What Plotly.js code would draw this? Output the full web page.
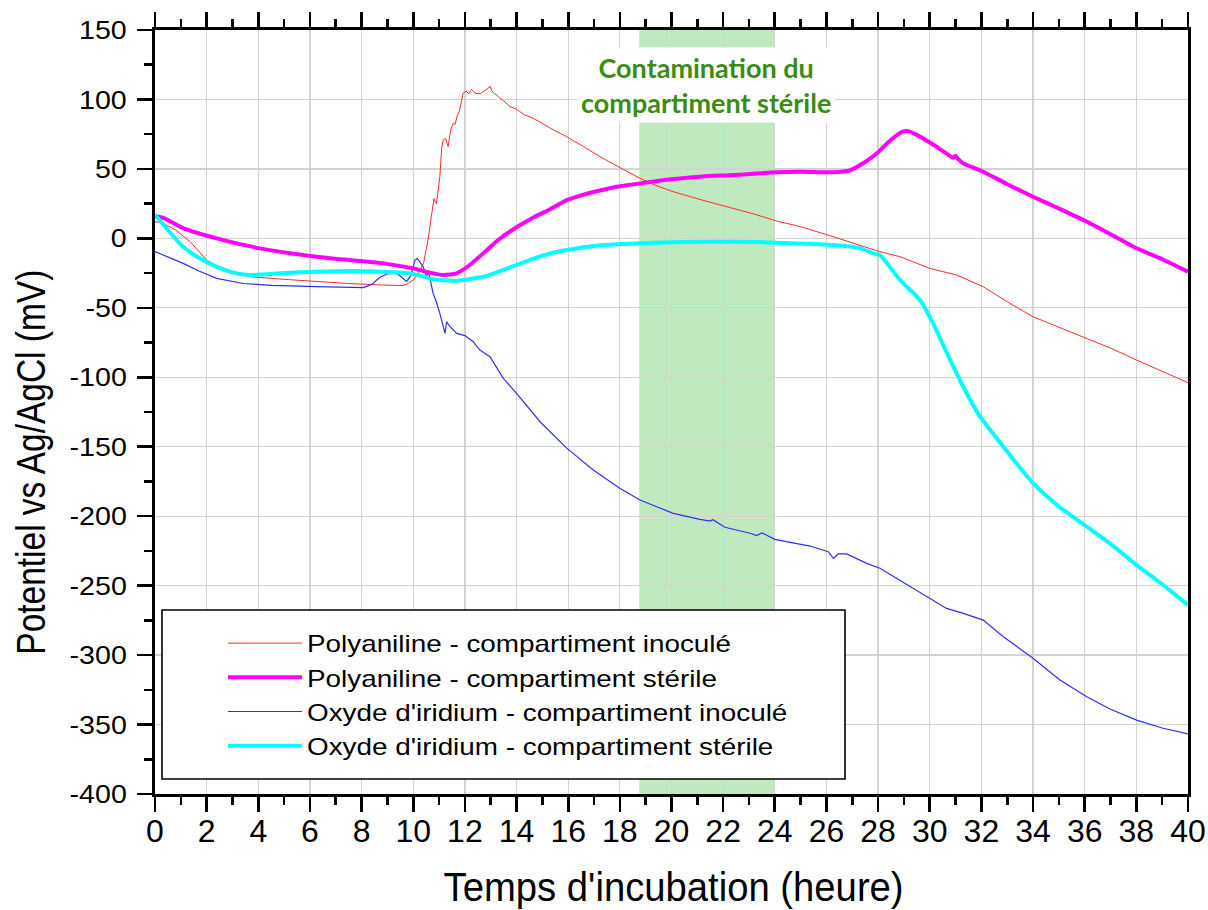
<!DOCTYPE html>
<html>
<head>
<meta charset="utf-8">
<script src="https://cdn.plot.ly/plotly-3.0.1.min.js"></script>
<style>html,body{margin:0;padding:0;background:#fff}#chart{width:1208px;height:910px}</style>
</head>
<body>
<div id="chart"></div>
<script>
// Polyaniline - compartiment inoculé
const paniInocX = [0,0.3,0.8,1.36,2.0,2.6,3.0,3.68,5,6.26,7.5,8.84,9.3,9.6,9.8,10.0,10.2,10.4,10.57,10.7,10.8,10.9,11.03,11.1,11.16,11.25,11.35,11.45,11.55,11.62,11.7,11.8,11.93,12.05,12.15,12.26,12.4,12.58,12.75,12.9,12.97,13.05,13.15,13.25,13.36,13.5,13.75,14.0,14.3,14.64,15.3,15.94,16.6,17.23,18.0,18.78,19.4,20.06,21.2,22.38,23.2,24.07,25.0,26.26,27.3,28.07,28.85,30.0,31.04,32.07,33.1,34.0,35.0,36.08,37.0,38.01,39.0,40];
const paniInocY = [12,11,6,-2.4,-15.6,-22,-25,-27.6,-29.5,-31.2,-32.5,-33.6,-34,-34,-32.5,-30,-25,-17.9,-1.2,15,28.6,25,44.4,65,70.8,72,66,78,83,82,88,92.4,104.4,106,104,107.3,104.5,104,106,108,109.5,106,104,103,100.8,99,94.8,93,89,86.6,79.4,73.2,66,58.8,51,43.2,38,33.6,27.5,21.8,17.5,12.5,8.4,1.2,-5,-9.6,-13.2,-21.6,-26.4,-34.8,-46.8,-56.4,-64,-72,-79,-87.6,-95.5,-103.9];

// Polyaniline - compartiment stérile
const paniSterX = [0,0.3,1.09,2.39,4.07,6.26,8.84,10.0,10.6,11.16,11.68,12.2,12.71,13.3,14.0,14.6,15.3,15.94,16.5,17.23,18.0,18.78,20.0,21.2,22.38,24.07,25.0,26.26,26.9,27.5,28.0,28.5,28.98,29.2,29.5,30.0,30.5,30.92,31.0,31.1,31.3,32.07,33.0,34.0,35.0,35.95,37.0,37.88,39.0,40];
const paniSterY = [16,15,7.4,0,-7.2,-13.2,-18,-21.6,-24.5,-26.4,-25.2,-19,-10.8,-1,8,14.5,21,27.5,31,34.5,37.5,39.6,42.5,44.5,45.6,47.6,48,47.6,49,55,62,71,77,77,74.5,69,63,58,59.5,57,54,48,39,30,21.5,13.2,3,-6,-15,-24];

// Oxyde d'iridium - compartiment inoculé
const irInocX = [0,0.4,1.09,1.7,2.39,3.42,4.5,6.26,7.3,8.07,8.4,8.71,9.0,9.36,9.55,9.74,9.9,10.07,10.15,10.25,10.39,10.5,10.6,10.77,10.9,11.03,11.15,11.23,11.29,11.4,11.68,12.0,12.32,12.58,12.97,13.49,14.0,14.91,15.94,16.97,18.01,18.78,19.4,20.07,21.1,21.5,21.6,22.07,23.04,23.3,23.5,24.0,25.36,26.07,26.27,26.46,26.78,27.56,28.07,29.49,30.65,31.3,32.07,32.85,34.01,35.04,36.08,37.0,38.01,39.0,40];
const irInocY = [-9.5,-12.5,-18,-23.5,-28.8,-32.5,-33.8,-34.8,-35.5,-35.5,-33,-28,-25.5,-25,-28,-31,-27,-15.6,-14.4,-17,-20.4,-27,-25,-39.6,-46,-54,-62,-68.4,-60,-63,-68.4,-70,-74.4,-80.4,-85.2,-100.8,-111.6,-132,-151,-166.8,-180,-188.4,-193,-198,-202.3,-203.5,-202.5,-208,-212.3,-214,-212,-216.7,-221.5,-225.6,-230.4,-227.2,-227.2,-234,-237.5,-253.2,-266.4,-270,-274.8,-286.8,-302.4,-318,-330,-339,-346.8,-352.5,-356.8];

// Oxyde d'iridium - compartiment stérile
const irSterX = [0,0.5,1.09,1.7,2.39,3.0,3.68,5.0,6.26,7.5,8.84,9.87,10.4,10.77,11.68,12.71,13.3,14.0,14.6,15.3,15.94,17.0,18.78,20.5,22.38,24.07,26.26,27.3,27.81,28.07,28.85,29.62,30.13,30.6,31.04,31.5,31.95,32.85,34.01,35.0,36.08,37.0,38.01,39.0,40];
const irSterY = [17,6,-6,-14,-20.4,-24.5,-26.4,-25,-24,-23.5,-24,-25.2,-27.5,-29.5,-30.5,-27.6,-24,-19.2,-15,-10.8,-8.4,-5.5,-3.6,-2.6,-2.4,-3.1,-4.8,-7,-10.8,-12,-30,-44.4,-61.2,-80,-97.2,-114,-128.4,-150,-176.4,-193,-207.6,-220,-235.2,-249,-264];

const seriesNames = [
  "Polyaniline - compartiment inoculé",
  "Polyaniline - compartiment stérile",
  "Oxyde d'iridium - compartiment inoculé",
  "Oxyde d'iridium - compartiment stérile"
];
const yTickVals = [150,100,50,0,-50,-100,-150,-200,-250,-300,-350,-400];
const yTickText = ["150","100","50","0","-50","-100","-150","-200","-250","-300","-350","-400"];
const xTitle = "Temps d'incubation (heure)";
const yTitle = "Potentiel vs Ag/AgCl (mV)";
const contaminationStart = 18.75, contaminationEnd = 24;
const annotationText = "Contamination du<br>compartiment stérile";

const arial = "'Liberation Sans', Arial, sans-serif";

const traces = [
  {x: paniInocX, y: paniInocY, name: seriesNames[0], mode: 'lines', line: {color: '#ff2a2a', width: 1}, legendrank: 1, legendgroup: 'a'},
  {x: irInocX, y: irInocY, name: seriesNames[2], mode: 'lines', line: {color: '#2f2ff0', width: 1.2}, legendrank: 3, legendgroup: 'c'},
  {x: paniSterX, y: paniSterY, name: seriesNames[1], mode: 'lines', line: {color: '#ff00ff', width: 4, shape: 'spline', smoothing: 0.6}, legendrank: 2, legendgroup: 'b'},
  {x: irSterX, y: irSterY, name: seriesNames[3], mode: 'lines', line: {color: '#00ffff', width: 4, shape: 'spline', smoothing: 0.6}, legendrank: 4, legendgroup: 'd'}
];

// pixel helpers for paper coordinates (plot area 155..1188 x 30..794)
const px2paperX = p => (p - 155) / 1033;
const px2paperY = p => 1 - (p - 30) / 764;

const layout = {
  width: 1208, height: 910,
  margin: {l: 155, r: 20, t: 30, b: 116},
  paper_bgcolor: '#fff', plot_bgcolor: '#fff',
  showlegend: true,
  legend: {
    x: px2paperX(223), y: px2paperY(621), xanchor: 'left', yanchor: 'top',
    bgcolor: 'rgba(0,0,0,0)', borderwidth: 0,
    font: {family: arial, size: 24, color: '#000'},
    tracegroupgap: 4, itemwidth: 74,
    traceorder: 'normal'
  },
  xaxis: {
    range: [0, 40], dtick: 2, tick0: 0,
    showgrid: true, gridcolor: '#d3d3d3', gridwidth: 1.3,
    showline: true, linecolor: '#000', linewidth: 3, mirror: 'ticks',
    ticks: 'outside', ticklen: 15, tickwidth: 2.6, tickcolor: '#000',
    minor: {dtick: 1, ticks: 'outside', ticklen: 8, tickwidth: 2.6, tickcolor: '#000', showgrid: false},
    tickfont: {family: arial, size: 32, color: '#000'},
    ticklabelstandoff: -8,
    zeroline: false
  },
  yaxis: {
    range: [-400, 150], tickmode: 'array', tickvals: yTickVals, ticktext: yTickText,
    showgrid: true, gridcolor: '#d3d3d3', gridwidth: 1.3,
    showline: true, linecolor: '#000', linewidth: 3, mirror: true,
    ticks: 'outside', ticklen: 15, tickwidth: 2.6, tickcolor: '#000',
    minor: {dtick: 25, tick0: 0, ticks: 'outside', ticklen: 8, tickwidth: 2.6, tickcolor: '#000', showgrid: false},
    tickfont: {family: arial, size: 26, color: '#000'},
    ticklabelstandoff: 5,
    zeroline: false
  },
  shapes: [
    {type: 'rect', xref: 'x', yref: 'paper', x0: contaminationStart, x1: contaminationEnd, y0: 0, y1: 1,
     fillcolor: 'rgba(140,215,140,0.55)', line: {width: 0}, layer: 'below'},
    {type: 'rect', xref: 'paper', yref: 'paper', x0: px2paperX(162), x1: px2paperX(845), y0: px2paperY(779), y1: px2paperY(610),
     fillcolor: '#fff', line: {color: '#000', width: 1.6}, layer: 'above'}
  ],
  annotations: [
    {x: (contaminationStart + contaminationEnd) / 2 - 0.05, y: 110.5, xref: 'x', yref: 'y',
     text: annotationText, showarrow: false, name: 'band',
     font: {family: "Lato, 'Open Sans', sans-serif", size: 27, color: '#3a8c14', weight: 'bold'},
     bgcolor: '#fff', borderpad: 3, align: 'center'},
    {x: px2paperX(673), y: px2paperY(887), xref: 'paper', yref: 'paper', xanchor: 'center', yanchor: 'middle',
     text: xTitle, showarrow: false, name: 'xtitle',
     font: {family: arial, size: 40, color: '#000'}},
    {x: px2paperX(31), y: px2paperY(462), xref: 'paper', yref: 'paper', xanchor: 'center', yanchor: 'middle',
     text: yTitle, textangle: -90, showarrow: false, name: 'ytitle',
     font: {family: arial, size: 41, color: '#000'}}
  ]
};

function scaleText(el, factor) {
  const L = el.getComputedTextLength();
  if (L > 0) {
    el.setAttribute('textLength', (L * factor).toFixed(2));
    el.setAttribute('lengthAdjust', 'spacingAndGlyphs');
  }
}
function fitText(el, width) {
  el.setAttribute('textLength', width);
  el.setAttribute('lengthAdjust', 'spacingAndGlyphs');
}

Plotly.newPlot('chart', traces, layout, {displayModeBar: false, staticPlot: true}).then(() => {
  document.querySelectorAll('.ytick text').forEach(t => scaleText(t, 1.1));
  document.querySelectorAll('.legend [clip-path]').forEach(e => e.removeAttribute('clip-path'));
  document.querySelectorAll('.legendtext').forEach(t => scaleText(t, 1.16));
  document.querySelectorAll('.annotation-text').forEach(t => {
    const s = t.textContent;
    if (s === xTitle) fitText(t, 460);
    else if (s === yTitle) fitText(t, 385);
  });
});
</script>
</body>
</html>
